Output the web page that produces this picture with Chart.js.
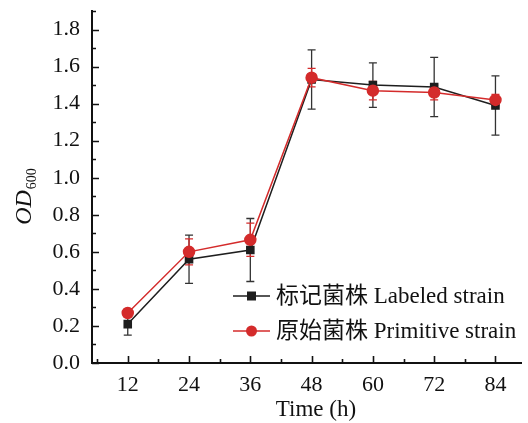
<!DOCTYPE html>
<html>
<head>
<meta charset="utf-8">
<script src="https://cdn.jsdelivr.net/npm/chart.js@4"></script>
<style>
  body { margin: 0; background: #fff; }
  #wrap { width: 528px; height: 423px; }
</style>
</head>
<body>
<div id="wrap"><canvas id="myChart" width="528" height="423"></canvas></div>
<script>
// datos
const times = [12, 24, 36, 48, 60, 72, 84];
const labeled = [0.21, 0.56, 0.61, 1.53, 1.50, 1.49, 1.39];
const labeledErr = [0.06, 0.13, 0.17, 0.16, 0.12, 0.16, 0.16];
const primitive = [0.27, 0.60, 0.665, 1.54, 1.47, 1.46, 1.42];
const primitiveErr = [0.02, 0.07, 0.09, 0.05, 0.05, 0.04, 0.03];
const xTicks = [12, 24, 36, 48, 60, 72, 84];
const yTicks = [0, 0.2, 0.4, 0.6, 0.8, 1.0, 1.2, 1.4, 1.6, 1.8];
const seriesNames = ['标记菌株 Labeled strain', '原始菌株 Primitive strain'];
const xTitle = 'Time (h)';

const BLACK = '#1e1e1e';
const RED = '#d42b2b';
const SERIF = '"Liberation Serif", "Times New Roman", serif';

const ctx = document.getElementById('myChart').getContext('2d');

function toPoints(vals, errs) {
    return times.map((t, i) => ({ x: t, y: vals[i], err: errs[i] }));
}

// barras de error, ticks hacia adentro, leyenda y titulos
const extras = {
    id: 'extras',
    beforeDatasetsDraw(chart) {
        const c = chart.ctx;
        const xs = chart.scales.x, ys = chart.scales.y;
        chart.data.datasets.forEach((ds, k) => {
            c.save();
            c.strokeStyle = k === 0 ? '#333' : RED;
            c.lineWidth = 1.3;
            ds.data.forEach(p => {
                const px = xs.getPixelForValue(p.x);
                const top = ys.getPixelForValue(p.y + p.err);
                const bot = ys.getPixelForValue(p.y - p.err);
                c.beginPath();
                c.moveTo(px, top); c.lineTo(px, bot);
                c.moveTo(px - 4, top); c.lineTo(px + 4, top);
                c.moveTo(px - 4, bot); c.lineTo(px + 4, bot);
                c.stroke();
            });
            c.restore();
        });
    },
    afterDraw(chart) {
        const c = chart.ctx;
        const xs = chart.scales.x, ys = chart.scales.y;
        const area = chart.chartArea;
        c.save();
        c.strokeStyle = '#111';
        c.lineWidth = 1.6;
        c.beginPath();
        // y ticks
        for (let v = 0; v <= 1.9001; v += 0.1) {
            const py = Math.round(ys.getPixelForValue(v)) + 0.5;
            const major = Math.round(v * 10) % 2 === 0;
            c.moveTo(area.left, py); c.lineTo(area.left + (major ? 7 : 4), py);
        }
        // x ticks
        for (let v = 6; v <= 89; v += 6) {
            const px = Math.round(xs.getPixelForValue(v)) + 0.5;
            const major = v % 12 === 0;
            c.moveTo(px, area.bottom); c.lineTo(px, area.bottom - (major ? 7 : 4));
        }
        c.stroke();

        // leyenda
        const rows = [296, 331];
        chart.data.datasets.forEach((ds, k) => {
            const y = rows[k];
            c.strokeStyle = ds.borderColor;
            c.lineWidth = 1.5;
            c.beginPath();
            c.moveTo(233, y); c.lineTo(270, y);
            c.stroke();
            c.fillStyle = ds.backgroundColor;
            if (k === 0) {
                c.fillRect(247, y - 4.5, 9, 9);
            } else {
                c.beginPath();
                c.arc(251.5, y, 5.5, 0, Math.PI * 2);
                c.fill();
            }
            c.fillStyle = '#111';
            c.font = '23px ' + SERIF + ', "Noto Sans CJK SC"';
            c.textBaseline = 'middle';
            c.textAlign = 'left';
            c.fillText(seriesNames[k], 276, y + 1);
        });

        // titulo eje x
        c.font = '23px ' + SERIF;
        c.textAlign = 'center';
        c.textBaseline = 'middle';
        c.fillText(xTitle, 316, 410);

        // titulo eje y: OD600
        c.translate(31, 197);
        c.rotate(-Math.PI / 2);
        c.textAlign = 'left';
        c.textBaseline = 'alphabetic';
        c.font = 'italic 24px ' + SERIF;
        const w1 = c.measureText('OD').width;
        c.font = '14px ' + SERIF;
        const w2 = c.measureText('600').width;
        const start = -(w1 + w2) / 2;
        c.font = 'italic 24px ' + SERIF;
        c.fillText('OD', start, 0);
        c.font = '14px ' + SERIF;
        c.fillText('600', start + w1 + 1, 5);
        c.restore();
    }
};

const myChart = new Chart(ctx, {
    type: 'line',
    data: {
        datasets: [{
            label: seriesNames[0],
            data: toPoints(labeled, labeledErr),
            borderColor: BLACK,
            backgroundColor: BLACK,
            borderWidth: 1.5,
            pointStyle: 'rect',
            pointRadius: 5,
            pointHoverRadius: 5,
            order: 1
        }, {
            label: seriesNames[1],
            data: toPoints(primitive, primitiveErr),
            borderColor: RED,
            backgroundColor: RED,
            borderWidth: 1.5,
            pointStyle: 'circle',
            pointRadius: 5.5,
            pointHoverRadius: 5.5,
            order: 0
        }]
    },
    options: {
        responsive: false,
        animation: false,
        events: [],
        layout: { padding: { top: 11, right: 4, left: 0, bottom: 0 } },
        plugins: {
            legend: { display: false },
            tooltip: { enabled: false }
        },
        scales: {
            x: {
                type: 'linear',
                min: 5,
                max: 89,
                afterBuildTicks: s => { s.ticks = xTicks.map(v => ({ value: v })); },
                afterFit: s => { s.height = 60; s.paddingLeft = 0; s.paddingRight = 0; },
                grid: { display: false, drawTicks: false },
                border: { display: true, color: '#111', width: 2 },
                ticks: { color: '#111', font: { family: SERIF, size: 22 }, padding: 9, maxRotation: 0 }
            },
            y: {
                min: 0,
                max: 1.9,
                afterBuildTicks: s => { s.ticks = yTicks.map(v => ({ value: v })); },
                afterFit: s => { s.width = 92; s.paddingTop = 0; s.paddingBottom = 0; },
                grid: { display: false, drawTicks: false },
                border: { display: true, color: '#111', width: 2 },
                ticks: {
                    color: '#111',
                    font: { family: SERIF, size: 22 },
                    padding: 12,
                    callback: v => v.toFixed(1)
                }
            }
        }
    },
    plugins: [extras]
});
</script>
</body>
</html>
